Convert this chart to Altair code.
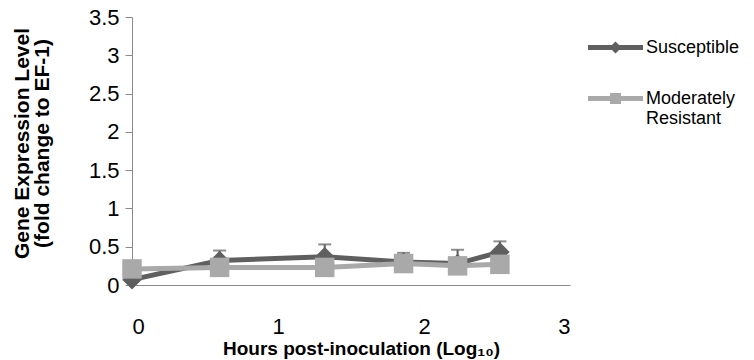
import altair as alt
import pandas as pd

# ---- data ----
hours_log = [0.0, 0.60, 1.32, 1.86, 2.23, 2.52]
susceptible = [0.07, 0.32, 0.37, 0.30, 0.28, 0.43]
susceptible_err = [0.0, 0.13, 0.16, 0.12, 0.18, 0.14]
mod_resistant = [0.21, 0.23, 0.23, 0.28, 0.25, 0.27]
series_names = ["Susceptible", "Moderately Resistant"]
series_colors = ["#5f5f5f", "#a9a9a9"]
x_ticks = [0, 1, 2, 3]
y_ticks = [0, 0.5, 1, 1.5, 2, 2.5, 3, 3.5]

df_s = pd.DataFrame({"x": hours_log, "y": susceptible,
                     "hi": [v + e for v, e in zip(susceptible, susceptible_err)],
                     "series": series_names[0]})
df_m = pd.DataFrame({"x": hours_log, "y": mod_resistant, "series": series_names[1]})
df_all = pd.concat([df_s[["x", "y", "series"]], df_m], ignore_index=True)

FONT = "Liberation Sans"
xscale = alt.Scale(domain=[0, 3], nice=False, zero=False)
yscale = alt.Scale(domain=[0, 3.5], nice=False)

xaxis = alt.Axis(values=x_ticks, ticks=False, labelPadding=31, labelFontSize=22,
                 labelOverlap=False,
                 title="Hours post-inoculation (Log₁₀)", titleFontSize=19, titleX=229,
                 titleFontWeight="bold", titlePadding=2, domainColor="#8a8a8a",
                 labelColor="#000000", titleColor="#000000", grid=False)
yaxis = alt.Axis(values=y_ticks, format="~g", tickSize=7, labelPadding=6,
                 labelOverlap=False,
                 labelFontSize=22, title=["Gene Expression Level", "(fold change to EF-1)"],
                 titleFontSize=21, titleFontWeight="bold", titleLineHeight=20, titleY=126,
                 titlePadding=36, domainColor="#8a8a8a", tickColor="#8a8a8a",
                 labelColor="#000000", titleColor="#000000", grid=False)
xenc = alt.X("x:Q", scale=xscale, axis=xaxis)
yenc = alt.Y("y:Q", scale=yscale, axis=yaxis)

base_s = alt.Chart(df_s)
base_m = alt.Chart(df_m)

err_stem = base_s.mark_rule(color=series_colors[0], strokeWidth=2).encode(
    x=xenc, y=yenc, y2="hi:Q")
err_cap = base_s.mark_tick(color=series_colors[0], thickness=2, size=13, orient="horizontal").encode(
    x=xenc, y=alt.Y("hi:Q", scale=yscale, axis=yaxis))
line_s = base_s.mark_line(color=series_colors[0], strokeWidth=5).encode(x=xenc, y=yenc)
pts_s = base_s.mark_point(shape="diamond", filled=True, size=380, opacity=1,
                          color=series_colors[0]).encode(x=xenc, y=yenc)
line_m = base_m.mark_line(color=series_colors[1], strokeWidth=5).encode(x=xenc, y=yenc)
pts_m = base_m.mark_point(shape="square", filled=True, size=380, opacity=1,
                          color=series_colors[1]).encode(x=xenc, y=yenc)

leg_paths = [
    "M-1,-0.09L1,-0.09L1,0.09L-1,0.09Z M0,-0.22L0.22,0L0,0.22L-0.22,0Z",
    "M-1,-0.09L1,-0.09L1,0.09L-1,0.09Z M-0.2,-0.2L0.2,-0.2L0.2,0.2L-0.2,0.2Z",
]
legend = alt.Legend(title=None, orient="none", legendX=456, legendY=3, padding=0,
                    symbolSize=3025, symbolStrokeWidth=0, labelFontSize=18, labelFont=FONT,
                    labelColor="#000000", labelOffset=3, rowPadding=14, labelLimit=200,
                    labelExpr="datum.label == 'Moderately Resistant' ? ['Moderately', 'Resistant'] : datum.label")
leg_layer = alt.Chart(df_all).transform_filter("false").mark_point(filled=True, opacity=1).encode(
    color=alt.Color("series:N", scale=alt.Scale(domain=series_names, range=series_colors), legend=legend),
    shape=alt.Shape("series:N", scale=alt.Scale(domain=series_names, range=leg_paths), legend=legend),
)

chart = alt.layer(err_stem, err_cap, line_s, pts_s, line_m, pts_m, leg_layer).properties(
    width=438, height=268,
    autosize=alt.AutoSizeParams(type="none"),
    padding={"left": 132, "top": 17, "right": 184, "bottom": 75},
).configure(font=FONT).configure_view(stroke=None)

chart.save("out.html", embed_options={"renderer": "svg", "actions": False})
